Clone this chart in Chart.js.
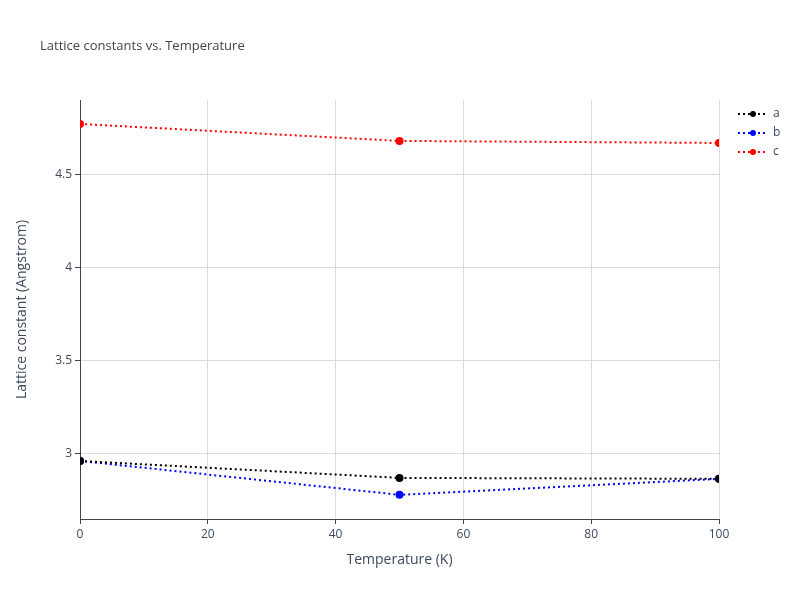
<!DOCTYPE html>
<html><head><meta charset="utf-8">
<script src="https://cdn.jsdelivr.net/npm/chart.js@4"></script>
<style>body{margin:0;background:#fff}#w{width:800px;height:600px}</style>
</head><body><div id="w"><canvas id="c"></canvas></div>
<script>
const temps=[0,50,100];
const aVals=[2.962,2.871,2.866];
const bVals=[2.962,2.780,2.866];
const cVals=[4.774,4.683,4.672];
const yTicks=[3,3.5,4,4.5];
const seriesNames=['a','b','c'];
const colors=['#000000','#0000ff','#ff0000'];
const font="'Open Sans', sans-serif";
const tc='#3d4a5c';
const ds=[aVals,bVals,cVals].map((v,i)=>({label:seriesNames[i],data:temps.map((t,j)=>({x:t,y:v[j]})),borderColor:colors[i],backgroundColor:colors[i],borderDash:[2,3],borderWidth:2,pointRadius:3,pointHoverRadius:3,tension:0}));
const deco={id:'deco',afterDraw(ch){const c=ch.ctx;c.save();c.fillStyle='#444';c.font="13px "+font;c.textBaseline='middle';c.fillText('Lattice constants vs. Temperature',40,46);
seriesNames.forEach((n,i)=>{const y=114+19*i;c.strokeStyle=colors[i];c.lineWidth=2;c.setLineDash([2,3]);c.beginPath();c.moveTo(738,y);c.lineTo(768,y);c.stroke();c.setLineDash([]);c.fillStyle=colors[i];c.beginPath();c.arc(753,y,3,0,Math.PI*2);c.fill();c.fillStyle=tc;c.font="12px "+font;c.fillText(n,773,y);});c.restore();}};
new Chart(document.getElementById('c'),{type:'line',data:{datasets:ds},plugins:[deco],
options:{responsive:true,maintainAspectRatio:false,animation:false,layout:{padding:{left:10,right:81,top:100,bottom:28}},
plugins:{legend:{display:false},tooltip:{enabled:false}},
scales:{x:{type:'linear',min:0,max:100,afterFit(s){s.height=53;},ticks:{stepSize:20,color:tc,font:{family:font,size:12},maxRotation:0},grid:{color:'#dcdcdc',tickLength:5,tickColor:'#444'},border:{color:'#444'},title:{display:true,text:'Temperature (K)',color:tc,font:{family:font,size:14},padding:{top:10}}},
y:{min:2.65,max:4.903,afterFit(s){s.width=70;},afterBuildTicks(s){s.ticks=yTicks.map(v=>({value:v}));},ticks:{color:tc,font:{family:font,size:12},callback:v=>String(v)},grid:{color:'#dcdcdc',tickLength:5,tickColor:'#444'},border:{color:'#444'},title:{display:true,text:'Lattice constant (Angstrom)',color:tc,font:{family:font,size:14},padding:{bottom:8}}}}}});
</script></body></html>
